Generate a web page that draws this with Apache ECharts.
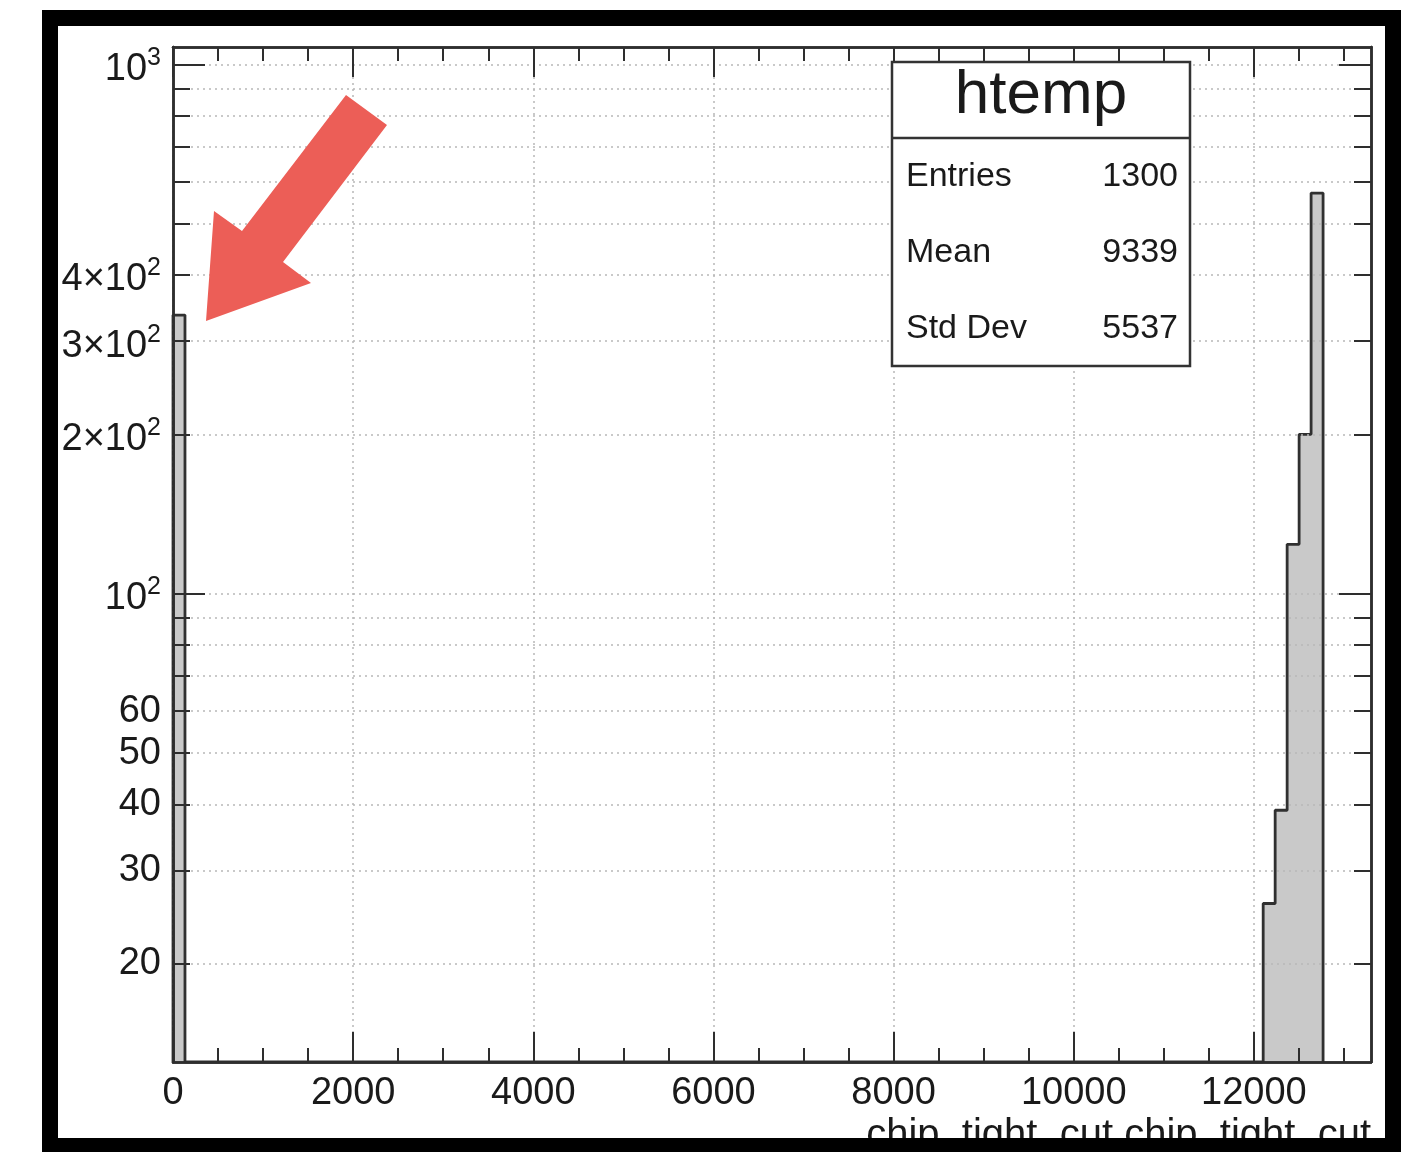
<!DOCTYPE html>
<html><head><meta charset="utf-8">
<script src="https://cdn.jsdelivr.net/npm/echarts@6/dist/echarts.min.js"></script>
<style>html,body{margin:0;padding:0;background:#fff}#c{width:1419px;height:1152px}</style>
</head><body><div id="c"></div>
<script>
// ---- data ----
const binWidth = 133;
const binLow = [0, 12103, 12236, 12369, 12502, 12635];
const binCounts = [336, 26, 39, 124, 200, 571];
const xRange = [0, 13300];
const yRange = [13.05, 1078];
const xMajorTicks = [0, 2000, 4000, 6000, 8000, 10000, 12000];
const xMinorTicks = [0, 500, 1000, 1500, 2000, 2500, 3000, 3500, 4000, 4500, 5000, 5500, 6000, 6500, 7000, 7500, 8000, 8500, 9000, 9500, 10000, 10500, 11000, 11500, 12000, 12500, 13000];
const yLabelTicks = [20, 30, 40, 50, 60, 100, 200, 300, 400, 1000];
const yMajorTicks = [100, 1000];
const yMinorTicks = [20, 30, 40, 50, 60, 70, 80, 90, 100, 200, 300, 400, 500, 600, 700, 800, 900, 1000];
const xTitle = 'chip_tight_cut.chip_tight_cut';
const statTitle = 'htemp';
const statNames = ['Entries', 'Mean', 'Std Dev'];
const statValues = ['1300', '9339', '5537'];

// ---- styling ----
const FONT = '"Liberation Sans", Arial, Helvetica, sans-serif';
const FRAME = '#2e2e2e';
const TXT = '#1a1a1a';
const GRIDLINE = { type: [2, 4], color: '#b8b8b8', width: 1.5 };

// histogram outline built from bins
const outline = [[binLow[0], yRange[0]]];
let prevHi = binLow[0];
binLow.forEach((lo, i) => {
  if (lo > prevHi) outline.push([prevHi, yRange[0]], [lo, yRange[0]]);
  const hi = lo + binWidth;
  outline.push([lo, binCounts[i]], [hi, binCounts[i]]);
  prevHi = hi;
});
outline.push([prevHi, yRange[0]]);

function yLabel(v) {
  const r = Math.round(v);
  if (r >= 100) {
    const exp = String(r).length - 1;
    const mant = Math.round(r / Math.pow(10, exp));
    return mant === 1 ? `{b|10}{s|${exp}}` : `{b|${mant}×10}{s|${exp}}`;
  }
  return `{p|${r}}`;
}
const yRich = {
  b: { fontSize: 38, fontFamily: FONT, color: TXT, padding: [10, 0, 0, 0], verticalAlign: 'bottom' },
  s: { fontSize: 25, fontFamily: FONT, color: TXT, padding: [0, 0, 18, 0], verticalAlign: 'bottom' },
  p: { fontSize: 38, lineHeight: 38, fontFamily: FONT, color: TXT }
};

const gridRect = { left: 173, top: 47, width: 1198, height: 1015, outerBoundsMode: 'none', containLabel: false };

function xAx(grid, pos, ticks, len, extra) {
  return Object.assign({
    gridIndex: grid, type: 'value', position: pos, min: xRange[0], max: xRange[1], z: 5,
    axisLine: { show: true, onZero: false, lineStyle: { color: FRAME, width: 2.5 } },
    axisTick: { show: true, inside: true, length: len, customValues: ticks, lineStyle: { color: FRAME, width: 2 } },
    axisLabel: { show: false },
    splitLine: { show: false }
  }, extra || {});
}
function yAx(grid, pos, ticks, len, extra) {
  return Object.assign({
    gridIndex: grid, type: 'log', logBase: 10, position: pos, min: yRange[0], max: yRange[1], z: 5,
    axisLine: { show: true, onZero: false, lineStyle: { color: FRAME, width: 2.5 } },
    axisTick: { show: true, inside: true, length: len, customValues: ticks, lineStyle: { color: FRAME, width: 2 } },
    axisLabel: { show: false },
    splitLine: { show: false }
  }, extra || {});
}

const option = {
  animation: false,
  backgroundColor: '#fff',
  grid: [Object.assign({}, gridRect), Object.assign({}, gridRect)],
  xAxis: [
    xAx(0, 'bottom', xMajorTicks, 30, {
      axisLabel: { show: true, customValues: xMajorTicks, interval: 0, hideOverlap: false, margin: 13, fontSize: 38, fontFamily: FONT, color: TXT, formatter: v => String(Math.round(v)) },
      splitLine: { show: true, lineStyle: GRIDLINE },
      name: xTitle, nameLocation: 'end', nameGap: 0, nameMoveOverlap: false,
      nameTextStyle: { fontSize: 40, fontFamily: FONT, color: TXT, align: 'right', verticalAlign: 'top', lineHeight: 40, padding: [54, 0, 0, 0] }
    }),
    xAx(0, 'top', xMajorTicks, 30),
    xAx(1, 'bottom', xMinorTicks, 14),
    xAx(1, 'top', xMinorTicks, 14)
  ],
  yAxis: [
    yAx(0, 'left', yMajorTicks, 32, {
      axisLabel: { show: true, customValues: yLabelTicks, interval: 0, hideOverlap: false, margin: 12, formatter: yLabel, rich: yRich, fontFamily: FONT, color: TXT, fontSize: 38 }
    }),
    yAx(0, 'right', yMajorTicks, 32),
    yAx(1, 'left', yMinorTicks, 17, { splitLine: { show: true, lineStyle: GRIDLINE } }),
    yAx(1, 'right', yMinorTicks, 17)
  ],
  series: [{
    type: 'line', xAxisIndex: 0, yAxisIndex: 0, data: outline, z: 1,
    showSymbol: false, symbol: 'none', clip: true,
    lineStyle: { color: '#303030', width: 2.8 },
    areaStyle: { color: '#c9c9c9', opacity: 1 }
  }],
  graphic: [
    // stats box
    { type: 'rect', z: 100, shape: { x: 892, y: 62, width: 298, height: 304 }, style: { fill: '#fff', stroke: '#333', lineWidth: 2.5 } },
    { type: 'line', z: 101, shape: { x1: 892, y1: 138, x2: 1190, y2: 138 }, style: { stroke: '#333', lineWidth: 2.5 } },
    { type: 'text', z: 101, x: 1041, y: 96, style: { text: statTitle, fontSize: 62, fontFamily: FONT, fill: TXT, align: 'center', textAlign: 'center', verticalAlign: 'middle', textVerticalAlign: 'middle' } },
    ...statNames.map((n, i) => ({ type: 'text', z: 101, x: 906, y: 177 + i * 76, style: { text: n, fontSize: 34, fontFamily: FONT, fill: TXT, align: 'left', textAlign: 'left', verticalAlign: 'middle', textVerticalAlign: 'middle' } })),
    ...statValues.map((v, i) => ({ type: 'text', z: 101, x: 1178, y: 177 + i * 76, style: { text: v, fontSize: 34, fontFamily: FONT, fill: TXT, align: 'right', textAlign: 'right', verticalAlign: 'middle', textVerticalAlign: 'middle' } })),
    // red arrow annotation
    { type: 'polygon', z: 110, shape: { points: [[346, 95], [387, 125], [283, 262], [311, 283], [206, 321], [214, 211], [242, 231]] }, style: { fill: '#ec5e57' } },
    // outer black frame
    { type: 'rect', z: 200, shape: { x: 50, y: 18, width: 1343, height: 1128 }, style: { fill: 'none', stroke: '#000', lineWidth: 16 } }
  ]
};

const chart = echarts.init(document.getElementById('c'), null, { renderer: 'canvas' });
chart.setOption(option);
</script>
</body></html>
